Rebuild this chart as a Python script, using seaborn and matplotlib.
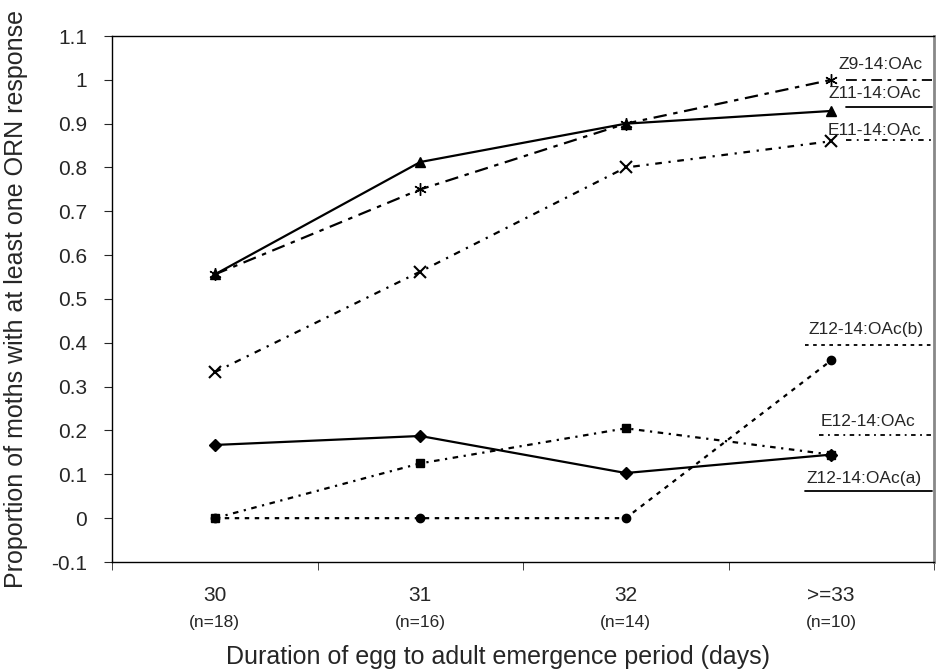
import seaborn as sns
import pandas as pd
import matplotlib.pyplot as plt
from matplotlib.ticker import FixedLocator

# data
periods = ["30", "31", "32", ">=33"]
n_counts = ["(n=18)", "(n=16)", "(n=14)", "(n=10)"]
z9_14 = [0.556, 0.75, 0.90, 1.00]
z11_14 = [0.556, 0.8125, 0.90, 0.929]
e11_14 = [0.333, 0.5625, 0.80, 0.86]
z12_14_b = [0.0, 0.0, 0.0, 0.36]
e12_14 = [0.0, 0.125, 0.205, 0.145]
z12_14_a = [0.167, 0.1875, 0.103, 0.145]
y_ticks = [-0.1, 0, 0.1, 0.2, 0.3, 0.4, 0.5, 0.6, 0.7, 0.8, 0.9, 1.0, 1.1]
y_tick_labels = ["-0.1", "0", "0.1", "0.2", "0.3", "0.4", "0.5", "0.6", "0.7", "0.8", "0.9", "1", "1.1"]

sns.set_style("white")
plt.rcParams['font.family'] = ['Liberation Sans', 'DejaVu Sans']

fig = plt.figure(figsize=(9.44, 6.69), dpi=100)
ax = fig.add_axes([112/944, 1 - 562/669, (934-112)/944, (562-36)/669])

x = list(range(len(periods)))

# series: (name, values, marker, marker size, linestyle, label x, label y, line y, line start)
series = [
    ("Z9-14:OAc", z9_14, (6, 2, 0), 9, (0, (6, 3, 2, 3)), 3.24, 1.035, 1.0, 3.07),
    ("Z11-14:OAc", z11_14, "^", 7, "-", 3.21, 0.968, 0.938, 3.07),
    ("E11-14:OAc", e11_14, "x", 8, (0, (3, 3, 1, 3)), 3.21, 0.885, 0.862, 3.07),
    ("Z12-14:OAc(b)", z12_14_b, "o", 6, (0, (2, 2.5)), 3.17, 0.43, 0.395, 2.87),
    ("E12-14:OAc", e12_14, "s", 6, (0, (2.5, 2.5, 1, 2.5)), 3.18, 0.22, 0.19, 2.94),
    ("Z12-14:OAc(a)", z12_14_a, "D", 6, "-", 3.16, 0.091, 0.062, 2.87),
]

for name, vals, mk, ms, ls, lx, ly, liney, lx0 in series:
    df = pd.DataFrame({"x": x, "y": vals})
    sns.lineplot(data=df, x="x", y="y", ax=ax, color="black", marker=mk,
                 markersize=ms, linestyle=ls, linewidth=1.6,
                 markeredgecolor="black", markeredgewidth=1.5 if mk == "x" else 1)
    ax.plot([lx0, 3.49], [liney, liney], color="black", linestyle=ls, linewidth=1.3)
    ax.text(lx, ly, name, fontsize=12.5, ha="center", va="center")

ax.set_xlim(-0.5, 3.5)
ax.set_ylim(-0.1, 1.1)
ax.set_yticks(y_ticks)
ax.set_yticklabels(y_tick_labels, fontsize=15)
ax.set_xticks(x)
ax.set_xticklabels(periods, fontsize=15)
ax.tick_params(axis="x", which="major", length=0, pad=17)
ax.xaxis.set_minor_locator(FixedLocator([-0.5, 0.5, 1.5, 2.5, 3.5]))
ax.tick_params(axis="x", which="minor", length=6, direction="out", bottom=True)
ax.tick_params(axis="y", length=6, direction="out", left=True, pad=12)

for xi, n in zip(x, n_counts):
    ax.text(xi, -0.237, n, fontsize=12.5, ha="center", va="center")

for s in ["left", "bottom", "top"]:
    ax.spines[s].set_color("black")
    ax.spines[s].set_linewidth(1)
ax.spines["right"].set_color("#888888")
ax.spines["right"].set_linewidth(2)

ax.set_xlabel("Duration of egg to adult emergence period (days)", fontsize=18)
ax.xaxis.set_label_coords(0.47, -0.157)
ax.set_ylabel("Proportion of moths with at least one ORN response", fontsize=18)
ax.yaxis.set_label_coords(-0.102, 0.5)

fig.savefig("out.png", dpi=100)
